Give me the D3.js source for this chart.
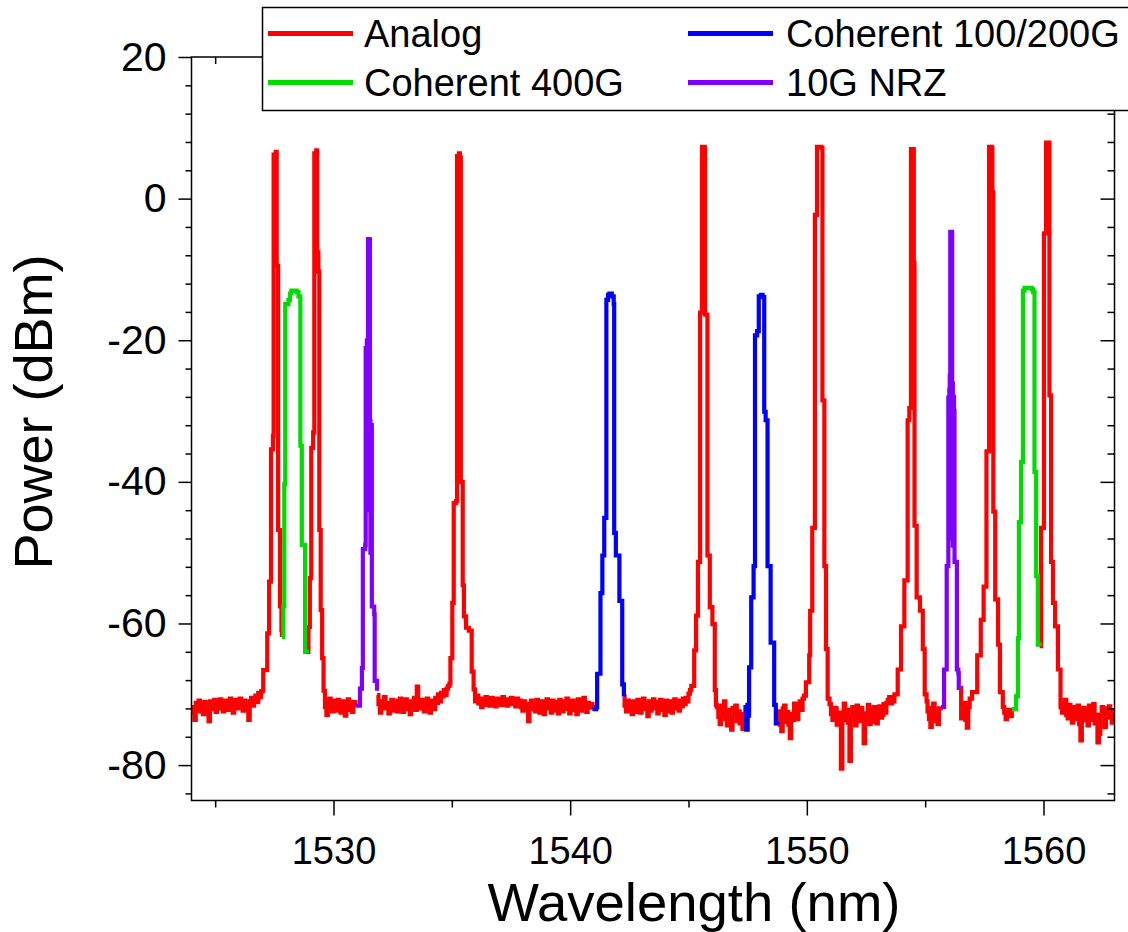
<!DOCTYPE html>
<html>
<head>
<meta charset="utf-8">
<script src="https://cdn.jsdelivr.net/npm/d3@7"></script>
<style>
  html, body { margin: 0; padding: 0; background: #fff; }
  svg { display: block; font-family: Arial, "Liberation Sans", sans-serif; }
</style>
</head>
<body>
<div id="chart"></div>
<script>
// ---- data (wavelength nm, power dBm) ----
const wavelengthTicks = [1530, 1540, 1550, 1560];
const powerTicks = [20, 0, -20, -40, -60, -80];
const legendNames = ["Analog", "Coherent 100/200G", "Coherent 400G", "10G NRZ"];
const legendColors = ["#ff0000", "#0000ff", "#00dc00", "#8000ff"];

// noise floor runs of the analog trace, OSA sample spacing 0.06 nm
const floorStep = 0.06;
const floorA = [-71.8, -72.6, -73.6, -71.2, -72.0, -70.9, -72.4, -71.5, -72.8, -71.1,
    -71.9, -72.3, -73.8, -71.0, -72.1, -71.6, -70.8, -72.5, -71.3, -72.0,
    -70.7, -71.8, -72.4, -71.2, -70.9, -72.2, -71.5, -70.6, -71.9, -72.6,
    -71.1, -70.8, -72.0, -71.4, -70.6, -71.7, -72.3, -70.9, -71.5, -72.1,
    -73.6, -71.0, -70.5, -71.6, -70.8, -70.2, -71.1, -69.8, -70.4, -69.6];
const floorB = [-71.8, -72.9, -71.2, -70.6, -71.9, -72.4, -70.9, -71.6, -72.3, -70.8,
    -71.5, -72.6, -71.0, -72.1, -73.0, -71.3, -70.7, -72.2, -71.4, -72.5, -71.1];
const floorC = [-70.1, -71.4, -72.6, -71.0, -71.8, -70.4, -72.0, -71.2, -72.7, -71.5,
    -70.8, -72.3, -71.6, -70.9, -72.4, -71.1, -70.6, -71.9, -72.5, -71.2,
    -70.7, -72.1, -71.4, -72.8, -71.0, -71.7, -70.5, -72.2, -68.9, -71.3,
    -72.0, -70.8, -71.6, -72.4, -71.1, -70.6, -71.8, -72.6, -70.9, -71.4,
    -72.1, -70.5, -71.2, -70.0, -71.0, -69.8, -70.3, -69.4, -70.1, -69.2, -68.8];
const floorD = [-70.2, -71.3, -70.6, -71.8, -70.9, -71.5, -70.4, -71.2, -70.8, -71.6,
    -70.5, -71.1, -70.9, -71.7, -70.6, -71.3, -70.8, -71.5, -70.4, -71.0,
    -70.7, -71.6, -70.9, -71.2, -70.5, -71.4, -70.8, -71.7, -70.6, -71.1,
    -70.9, -71.8, -72.3, -71.0, -72.0, -71.4, -73.8, -71.6, -70.9, -72.1,
    -71.3, -72.4, -70.8, -71.7, -72.6, -71.0, -71.9, -72.8, -71.2, -70.7,
    -72.0, -71.5, -72.6, -70.9, -71.8, -72.3, -71.1, -72.7, -70.8, -71.6,
    -72.4, -71.0, -72.1, -70.6, -71.9, -72.7, -71.3, -70.9, -72.2, -71.5,
    -72.8, -70.7, -71.4, -72.3, -71.1, -70.5, -71.8, -72.5, -71.2, -71.9, -71.4];
const floorE = [-71.6, -72.4, -70.9, -72.0, -71.3, -72.8, -71.0, -71.7, -72.5, -70.8,
    -71.9, -72.6, -71.2, -70.6, -72.1, -71.5, -73.1, -71.0, -72.3, -71.6,
    -70.7, -72.0, -71.4, -72.7, -71.1, -70.8, -72.2, -71.5, -72.9, -70.9,
    -71.8, -72.4, -71.0, -72.6, -71.3, -70.7, -72.0, -71.6, -72.3, -70.9,
    -71.7, -70.6, -71.4, -70.5, -71.0, -69.9, -69.4];
const floorF = [-71.8, -73.2, -74.2, -71.6, -72.9, -71.0, -73.5, -74.4, -72.2, -73.1,
    -75.0, -71.9, -72.6, -71.6, -73.8, -72.4, -74.1, -72.8, -74.9, -73.0];
const floorG = [-72.4, -73.8, -75.2, -72.0, -71.6, -73.9, -72.5, -74.3, -76.2, -72.8,
    -73.6, -71.3, -72.9, -73.5, -71.8, -71.0, -72.2, -70.6, -70.2];
const floorH = [-71.4, -72.8, -73.6, -71.9, -72.0, -74.3, -72.6, -73.4, -80.5, -72.6,
    -71.3, -73.7, -72.2, -74.0, -79.4, -73.1, -71.8, -72.9, -74.4, -71.6,
    -72.5, -73.8, -71.9, -73.2, -76.9, -72.7, -73.2, -71.5, -74.2, -72.4,
    -73.9, -71.8, -72.4, -74.1, -72.0, -71.7, -73.3, -72.9, -71.4, -72.6,
    -71.2, -70.8, -70.4, -71.3, -71.0];
const floorI = [-72.4, -73.5, -74.6, -71.9, -71.3, -73.8, -72.6, -74.2, -72.0];
const floorJ = [-73.4, -72.0, -71.2, -73.6, -74.7, -71.8, -70.6];
const floorK = [-72.6, -73.5, -72.9, -72.2, -73.1];
const floorL = [-72.6, -71.4, -70.8, -72.9, -73.4, -71.5, -72.7, -74.0, -71.8, -72.1,
    -73.5, -71.6, -74.2, -76.5, -72.3, -71.9, -73.7, -72.3, -74.4, -71.6,
    -72.8, -73.6, -71.4, -74.1, -72.9, -76.8, -75.6, -73.1, -71.8, -72.6,
    -74.6, -72.0, -73.3, -71.7, -72.4, -74.0, -72.8, -73.3];

// analog carriers
const peak1 = [[1527.00, -69.5], [1527.03, -66.6], [1527.20, -61.4], [1527.28, -54.1], [1527.36, -35.4], [1527.44, -33.5], [1527.47, 6.2], [1527.56, 6.6], [1527.60, -9.5], [1527.66, -46.8], [1527.74, -57.6], [1527.80, -60.9], [1527.82, -61.9]];
const peak2 = [[1528.88, -64.0], [1528.94, -60.5], [1529.00, -53.6], [1529.06, -35.2], [1529.14, -33.0], [1529.19, 6.4], [1529.27, 6.8], [1529.31, -7.6], [1529.36, -10.3], [1529.40, -46.8], [1529.46, -58.1], [1529.52, -64.9], [1529.58, -69.5]];
const peak3 = [[1534.90, -68.5], [1534.94, -64.9], [1535.02, -57.1], [1535.08, -43.0], [1535.18, -42.7], [1535.22, 6.0], [1535.30, 6.4], [1535.34, 5.8], [1535.38, -40.0], [1535.46, -54.6], [1535.51, -59.0], [1535.60, -60.6], [1535.72, -61.0], [1535.84, -66.8], [1535.92, -69.3], [1535.98, -71.0]];
const peak4 = [[1545.12, -68.8], [1545.24, -63.8], [1545.32, -58.9], [1545.40, -51.3], [1545.49, -16.1], [1545.57, 7.3], [1545.68, 7.2], [1545.70, -16.4], [1545.80, -50.4], [1545.90, -57.7], [1546.01, -60.1], [1546.11, -69.4], [1546.16, -71.5]];
const peak5 = [[1549.96, -68.3], [1550.10, -64.5], [1550.14, -58.2], [1550.23, -46.5], [1550.34, -2.3], [1550.43, 7.3], [1550.60, 7.2], [1550.66, -28.5], [1550.74, -51.9], [1550.81, -63.6], [1550.88, -70.6]];
const peak6 = [[1553.70, -70.0], [1553.84, -66.5], [1553.98, -60.4], [1554.12, -53.9], [1554.26, -31.3], [1554.33, -29.6], [1554.40, 7.0], [1554.52, -9.1], [1554.55, -46.2], [1554.64, -56.3], [1554.78, -58.2], [1554.90, -63.6], [1554.98, -70.0], [1555.06, -71.0]];
const peak7 = [[1556.98, -69.7], [1557.20, -64.5], [1557.35, -59.5], [1557.47, -54.8], [1557.59, -35.7], [1557.70, 7.3], [1557.80, 7.2], [1557.84, 0.9], [1557.88, -44.2], [1557.96, -56.6], [1558.08, -63.0], [1558.16, -69.7], [1558.28, -71.8]];
const peak8 = [[1559.84, -63.2], [1559.90, -46.5], [1560.02, -4.9], [1560.11, 7.9], [1560.25, -27.8], [1560.32, -51.3], [1560.40, -57.1], [1560.49, -60.4], [1560.61, -66.5], [1560.72, -71.8]];

// coherent 100/200G channels
const coherent200a = [[1540.94, -72.1], [1541.10, -71.8], [1541.14, -67.1], [1541.28, -55.7], [1541.36, -50.4], [1541.44, -45.1], [1541.53, -14.3], [1541.60, -13.6], [1541.66, -13.4], [1541.76, -13.8], [1541.84, -14.9], [1541.86, -47.2], [1541.93, -50.4], [1542.08, -56.8], [1542.20, -68.6], [1542.27, -70.3]];
const coherent200b = [[1547.40, -71.5], [1547.44, -75.0], [1547.50, -73.0], [1547.56, -66.2], [1547.65, -56.3], [1547.75, -51.9], [1547.81, -19.3], [1547.90, -18.7], [1547.97, -13.8], [1548.06, -13.6], [1548.13, -13.9], [1548.20, -30.1], [1548.26, -31.3], [1548.34, -51.9], [1548.47, -62.7], [1548.62, -71.5], [1548.69, -74.1], [1548.76, -74.3]];

// coherent 400G channels
const coherent400a = [[1527.82, -61.9], [1527.88, -57.6], [1527.92, -40.3], [1527.96, -14.9], [1528.10, -14.3], [1528.16, -13.4], [1528.22, -13.0], [1528.44, -13.2], [1528.52, -13.8], [1528.60, -34.9], [1528.66, -48.9], [1528.80, -64.0], [1528.88, -64.2]];
const coherent400b = [[1558.66, -72.1], [1558.84, -70.3], [1558.92, -62.1], [1558.96, -45.7], [1559.05, -37.2], [1559.13, -13.0], [1559.20, -12.6], [1559.50, -12.8], [1559.56, -13.2], [1559.62, -38.6], [1559.69, -53.3], [1559.76, -63.0], [1559.84, -63.2]];

// 10G NRZ channels
const nrz10a = [[1530.92, -71.6], [1531.12, -69.2], [1531.20, -66.3], [1531.24, -49.5], [1531.34, -48.9], [1531.36, -21.1], [1531.39, -44.0], [1531.41, -20.0], [1531.46, -5.7], [1531.52, -5.8], [1531.54, -31.4], [1531.56, -50.0], [1531.58, -32.0], [1531.62, -57.6], [1531.72, -58.7], [1531.74, -68.1], [1531.84, -69.5]];
const nrz10b = [[1555.66, -71.8], [1555.80, -66.5], [1555.91, -51.9], [1555.98, -28.1], [1556.00, -48.0], [1556.02, -27.0], [1556.04, -25.0], [1556.06, -4.7], [1556.13, -4.8], [1556.14, -26.1], [1556.17, -49.0], [1556.19, -28.0], [1556.22, -30.0], [1556.24, -51.3], [1556.34, -66.5], [1556.40, -67.0], [1556.42, -69.1], [1556.49, -69.1]];

function run(start, values) {
    return values.map((v, i) => [start + i * floorStep, v]);
}

// analog trace is broken where the other channels sit
const analogSegments = [
    [...run(1524.00, floorA), ...peak1],
    [...peak2, ...run(1529.64, floorB), [1530.92, -71.6]],
    [...run(1531.84, floorC), ...peak3, ...run(1536.06, floorD), [1540.94, -72.1]],
    [[1542.27, -70.3], ...run(1542.30, floorE), ...peak4, ...run(1546.20, floorF), [1547.40, -71.5]],
    [[1548.76, -74.3], ...run(1548.80, floorG), ...peak5, ...run(1550.96, floorH), ...peak6, ...run(1555.10, floorI), [1555.66, -71.8]],
    [[1556.49, -69.1], ...run(1556.52, floorJ), ...peak7, ...run(1558.34, floorK), [1558.66, -72.1]],
    [...peak8, ...run(1560.78, floorL)]
];

const series = [
    {color: legendColors[0], segments: analogSegments},
    {color: legendColors[1], segments: [coherent200a, coherent200b]},
    {color: legendColors[2], segments: [coherent400a, coherent400b]},
    {color: legendColors[3], segments: [nrz10a, nrz10b]}
];

// ---- layout ----
const WIDTH = 1128, HEIGHT = 932;
const plotLeft = 191.5, plotRight = 1114.5, plotTop = 57, plotBottom = 800.5;

const svg = d3.select("#chart")
    .append("svg")
    .attr("width", WIDTH)
    .attr("height", HEIGHT);

const x = d3.scaleLinear().domain([1524, 1563]).range([plotLeft, plotRight]);
const y = d3.scaleLinear().domain([-85, 20]).range([plotBottom, plotTop]);

svg.append("clipPath").attr("id", "plot-clip")
    .append("rect")
    .attr("x", plotLeft).attr("y", plotTop)
    .attr("width", plotRight - plotLeft).attr("height", plotBottom - plotTop);

const line = d3.line()
    .x(d => x(d[0]))
    .y(d => y(d[1]))
    .curve(d3.curveStepAfter);

let traces = svg.append("g").attr("clip-path", "url(#plot-clip)");
series.forEach(s => {
    traces.selectAll(null)
        .data(s.segments)
        .enter()
        .append("path")
        .attr("d", line)
        .attr("fill", "none")
        .attr("stroke", s.color)
        .attr("stroke-width", 4.2)
        .attr("stroke-linejoin", "miter")
        .attr("stroke-miterlimit", 2);
});

// frame
svg.append("rect")
    .attr("x", plotLeft).attr("y", plotTop)
    .attr("width", plotRight - plotLeft).attr("height", plotBottom - plotTop)
    .attr("fill", "none")
    .attr("stroke", "black")
    .attr("stroke-width", 1.5);

const minorX = [1525, 1535, 1545, 1555];
const minorY = d3.range(-84, 20, 4).filter(v => v % 20 !== 0);

function styleAxis(g) {
    g.select(".domain").remove();
    g.selectAll("line").attr("stroke", "black").attr("stroke-width", 1.5);
    g.attr("font-family", null).attr("font-size", null);
}

// bottom
svg.append("g").attr("transform", `translate(0,${plotBottom})`)
    .call(d3.axisBottom(x).tickValues(wavelengthTicks).tickSize(15).tickPadding(22).tickFormat(d => String(d)))
    .call(styleAxis)
    .selectAll("text").attr("font-size", 38).attr("fill", "black");
svg.append("g").attr("transform", `translate(0,${plotBottom})`)
    .call(d3.axisBottom(x).tickValues(minorX).tickSize(7).tickFormat(""))
    .call(styleAxis);

// top (inward)
svg.append("g").attr("transform", `translate(0,${plotTop})`)
    .call(d3.axisTop(x).tickValues(wavelengthTicks).tickSize(-14).tickFormat(""))
    .call(styleAxis);
svg.append("g").attr("transform", `translate(0,${plotTop})`)
    .call(d3.axisTop(x).tickValues(minorX).tickSize(-7).tickFormat(""))
    .call(styleAxis);

// left
svg.append("g").attr("transform", `translate(${plotLeft},0)`)
    .call(d3.axisLeft(y).tickValues(powerTicks).tickSize(13).tickPadding(12).tickFormat(d => String(d)))
    .call(styleAxis)
    .selectAll("text").attr("font-size", 41).attr("fill", "black");
svg.append("g").attr("transform", `translate(${plotLeft},0)`)
    .call(d3.axisLeft(y).tickValues(minorY).tickSize(6).tickFormat(""))
    .call(styleAxis);

// right (inward)
svg.append("g").attr("transform", `translate(${plotRight},0)`)
    .call(d3.axisRight(y).tickValues(powerTicks).tickSize(-14).tickFormat(""))
    .call(styleAxis);
svg.append("g").attr("transform", `translate(${plotRight},0)`)
    .call(d3.axisRight(y).tickValues(minorY).tickSize(-7).tickFormat(""))
    .call(styleAxis);

// axis titles
svg.append("text")
    .attr("x", 694).attr("y", 921)
    .attr("text-anchor", "middle")
    .attr("font-size", 54.5)
    .text("Wavelength (nm)");

svg.append("text")
    .attr("transform", "translate(52,412) rotate(-90)")
    .attr("text-anchor", "middle")
    .attr("font-size", 54)
    .text("Power (dBm)");

// legend
let legend = svg.append("g");
legend.append("rect")
    .attr("x", 262.5).attr("y", 7.5)
    .attr("width", 900).attr("height", 103)
    .attr("fill", "white")
    .attr("stroke", "black")
    .attr("stroke-width", 1.5);

const colX = [268, 688], textX = [364, 786], rowY = [33.5, 82.5];
legendNames.forEach((name, i) => {
    let c = i % 2, r = Math.floor(i / 2);
    legend.append("line")
        .attr("x1", colX[c]).attr("x2", colX[c] + 85)
        .attr("y1", rowY[r]).attr("y2", rowY[r])
        .attr("stroke", legendColors[i])
        .attr("stroke-width", 5);
    legend.append("text")
        .attr("x", textX[c]).attr("y", rowY[r] + 13)
        .attr("font-size", 38)
        .text(name);
});
</script>
</body>
</html>
